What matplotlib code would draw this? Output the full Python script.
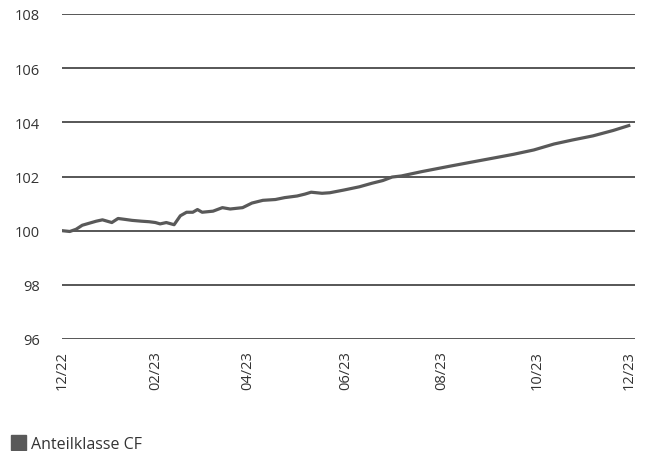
import numpy as np
import pandas as pd
import matplotlib
matplotlib.use("Agg")
from matplotlib import pyplot as plt
from matplotlib.patches import Rectangle

plt.rcParams['font.family'] = ['Open Sans', 'DejaVu Sans']

# indexed performance
dates = ["2022-12-30", "2023-01-04", "2023-01-08", "2023-01-12", "2023-01-18",
         "2023-01-21", "2023-01-25", "2023-01-31", "2023-02-04", "2023-02-08",
         "2023-02-13", "2023-02-19", "2023-02-24", "2023-02-28", "2023-03-03",
         "2023-03-07", "2023-03-12", "2023-03-16", "2023-03-20", "2023-03-24",
         "2023-03-27", "2023-03-30", "2023-04-06", "2023-04-12", "2023-04-17",
         "2023-04-25", "2023-05-01", "2023-05-08", "2023-05-16", "2023-05-22",
         "2023-05-30", "2023-06-04", "2023-06-08", "2023-06-15", "2023-06-20",
         "2023-06-29", "2023-07-09", "2023-07-17", "2023-07-24", "2023-07-30",
         "2023-08-05", "2023-08-18", "2023-09-05", "2023-09-18", "2023-10-03",
         "2023-10-16", "2023-10-29", "2023-11-11", "2023-11-23", "2023-12-06",
         "2023-12-19", "2023-12-29"]
values = [100.0, 99.97, 100.05, 100.2, 100.3,
          100.35, 100.4, 100.3, 100.45, 100.42,
          100.38, 100.35, 100.33, 100.3, 100.25,
          100.3, 100.22, 100.55, 100.68, 100.68,
          100.78, 100.68, 100.72, 100.85, 100.8,
          100.85, 101.02, 101.12, 101.15, 101.22,
          101.28, 101.35, 101.42, 101.38, 101.4,
          101.5, 101.62, 101.75, 101.85, 101.98,
          102.02, 102.18, 102.38, 102.52, 102.68,
          102.82, 102.98, 103.2, 103.35, 103.5,
          103.7, 103.88]

tick_dates = ["2022-12-30", "2023-02-28", "2023-04-28", "2023-06-30",
              "2023-08-31", "2023-10-31", "2023-12-29"]
tick_labels = ["12/22", "02/23", "04/23", "06/23", "08/23", "10/23", "12/23"]
y_ticks = [96, 98, 100, 102, 104, 106, 108]
series_name = "Anteilklasse CF"

line_col = "#595959"
grid_col = "#3a3a3a"
text_col = "#333333"

W, H = 651, 452
fig = plt.figure(figsize=(W / 100, H / 100), dpi=100)
ax = fig.add_axes([62 / W, 1 - 340 / H, (635 - 62) / W, (340 - 15) / H])

x = pd.to_datetime(dates)
ax.plot(x, values, color=line_col, lw=2.3, solid_joinstyle="round", zorder=3)

ax.set_ylim(96, 108)
ax.set_yticks(y_ticks)
ax.set_xlim(pd.Timestamp("2022-12-30"), pd.Timestamp("2024-01-02"))
ax.set_xticks(pd.to_datetime(tick_dates))
ax.set_xticklabels(tick_labels, rotation=90)

ax.grid(axis="y", color=grid_col, lw=1.2)
ax.grid(axis="x", visible=False)
for s in ax.spines.values():
    s.set_visible(False)
ax.tick_params(axis="both", length=0, labelsize=10.5, colors=text_col)
ax.tick_params(axis="y", pad=16)
ax.tick_params(axis="x", pad=8)

# legend drawn by hand at the bottom left
fig.patches.append(Rectangle((11 / W, 1 - 451 / H), 15 / W, 15 / H,
                             transform=fig.transFigure, color=line_col))
fig.text(31 / W, 1 - 449 / H, series_name, fontsize=11.5, color=text_col,
         ha="left", va="baseline")

fig.savefig("out.png", dpi=100)
